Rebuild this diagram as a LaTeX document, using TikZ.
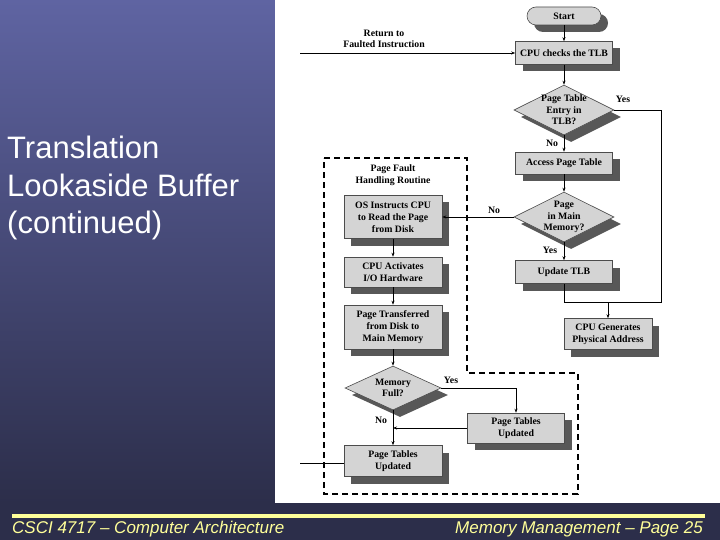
\documentclass[tikz,border=0pt]{standalone}
\usepackage{fontspec}
\setmainfont{Liberation Serif}
\newfontfamily\arialf{Liberation Sans}
\usetikzlibrary{shapes.geometric,arrows.meta}
\definecolor{navy}{HTML}{2C2E4A}
\definecolor{paneltop}{HTML}{5F64A2}
\definecolor{boxfill}{HTML}{D4D4D4}
\definecolor{shade}{HTML}{585858}
\definecolor{footy}{HTML}{FFFF99}
\tikzset{
 sh/.style={preaction={fill=shade,transform canvas={xshift=7pt,yshift=-7pt}}},
 proc/.style={draw=black!70,line width=0.6pt,fill=boxfill,sh,align=center,inner sep=1pt,font=\bfseries\fontsize{9.8}{12}\selectfont},
 dec/.style={diamond,draw=black!70,line width=0.6pt,fill=boxfill,sh,inner sep=0pt},
 dtxt/.style={align=center,inner sep=0pt,font=\bfseries\fontsize{9.8}{11.5}\selectfont},
 lbl/.style={font=\bfseries\fontsize{9.8}{11.5}\selectfont,align=center,inner sep=1pt},
 arr/.style={-{Stealth[length=4pt,width=3pt]},line width=0.6pt},
 ln/.style={line width=0.6pt}
}
\begin{document}
\begin{tikzpicture}[x=1pt,y=-1pt]
\useasboundingbox (0,0) rectangle (720,540);
\fill[navy] (0,0) rectangle (720,540);
\shade[top color=paneltop,bottom color=navy] (0,0) rectangle (275,503);
\fill[white] (275,0) rectangle (720,503);
\fill[footy] (12,514) rectangle (705,518);
\node[anchor=west,text=footy,font=\arialf\itshape\fontsize{17}{20}\selectfont,inner sep=0] (fl) at (12,529) {CSCI 4717 – Computer Architecture};
\node[anchor=east,text=footy,font=\arialf\itshape\fontsize{17}{20}\selectfont,inner sep=0] (fr) at (703,529) {Memory Management – Page 25};
\node[anchor=north west,text=white,align=left,font=\arialf\fontsize{31}{37.5}\selectfont,inner sep=0] (title) at (7,136) {Translation\\Lookaside Buffer\\(continued)};

% dashed region
\draw[line width=1.8pt,dash pattern=on 6pt off 4pt] (324,158) -- (467,158) -- (467,373) -- (578,373) -- (578,494) -- (324,494) -- cycle;

\node[proc,rounded corners=9pt,minimum width=74pt,minimum height=18pt] (start) at (564,16) {Start};
\node[proc,minimum width=97pt,minimum height=23pt] (chk) at (564,53) {CPU checks the TLB};
\node[dec,minimum width=100pt,minimum height=50pt] (d1) at (564,110) {};
\node[dtxt] (d1t) at (564,110) {Page Table\\Entry in\\TLB?};
\node[proc,minimum width=97pt,minimum height=22pt] (apt) at (564,163) {Access Page Table};
\node[dec,minimum width=100pt,minimum height=50pt] (d2) at (564,217) {};
\node[dtxt] (d2t) at (564,217) {Page\\in Main\\Memory?};
\node[proc,minimum width=97pt,minimum height=23pt] (utlb) at (564,272) {Update TLB};
\node[proc,minimum width=88pt,minimum height=31pt] (gen) at (608,334) {CPU Generates\\Physical Address};

\node[lbl] (ret) at (384,39) {Return to\\Faulted Instruction};
\coordinate (rs) at (300,53);
\draw[arr] (rs) -- (chk);

\node[lbl] (pfh) at (393,175) {Page Fault\\Handling Routine};
\node[proc,minimum width=98pt,minimum height=43pt] (os) at (393,217) {OS Instructs CPU\\to Read the Page\\from Disk};
\node[proc,minimum width=98pt,minimum height=30pt] (io) at (393,272) {CPU Activates\\I/O Hardware};
\node[proc,minimum width=98pt,minimum height=44pt] (pt) at (393,327) {Page Transferred\\from Disk to\\Main Memory};
\node[dec,minimum width=96pt,minimum height=44pt] (mf) at (393,388) {};
\node[dtxt] (mft) at (393,388) {Memory\\Full?};
\node[proc,minimum width=97pt,minimum height=30pt] (ptu2) at (516,428) {Page Tables\\Updated};
\node[proc,minimum width=98pt,minimum height=31pt] (ptu1) at (393,461) {Page Tables\\Updated};

\draw[arr] (start) -- (chk);
\draw[arr] (chk) -- (d1);
\draw[arr] (d1) -- (apt);
\draw[arr] (apt) -- (d2);
\draw[arr] (d2) -- (utlb);
\coordinate (j1) at (564,302);
\coordinate (j2) at (608,302);
\draw[ln] (utlb) -- (j1) -- (661,302) |- (d1.east);
\draw[arr] (j2) -- (gen);
\draw[arr] (d2.west) -- (os.east);
\draw[arr] (os) -- (io);
\draw[arr] (io) -- (pt);
\draw[arr] (pt) -- (mf);
\draw[arr] (mf.east) -| (ptu2.north);
\draw[arr] (mf) -- (ptu1);
\coordinate (j3) at (393,428);
\draw[arr] (ptu2.west) -- (j3);
\coordinate (fe) at (300,463);
\draw[ln] (ptu1.west |- fe) -- (fe);

\node[lbl] (y1) at (623,99) {Yes};
\node[lbl] (n1) at (552,143) {No};
\node[lbl] (n2) at (494,210) {No};
\node[lbl] (y2) at (550,250) {Yes};
\node[lbl] (y3) at (451,380) {Yes};
\node[lbl] (n3) at (381,420) {No};
\end{tikzpicture}
\end{document}
